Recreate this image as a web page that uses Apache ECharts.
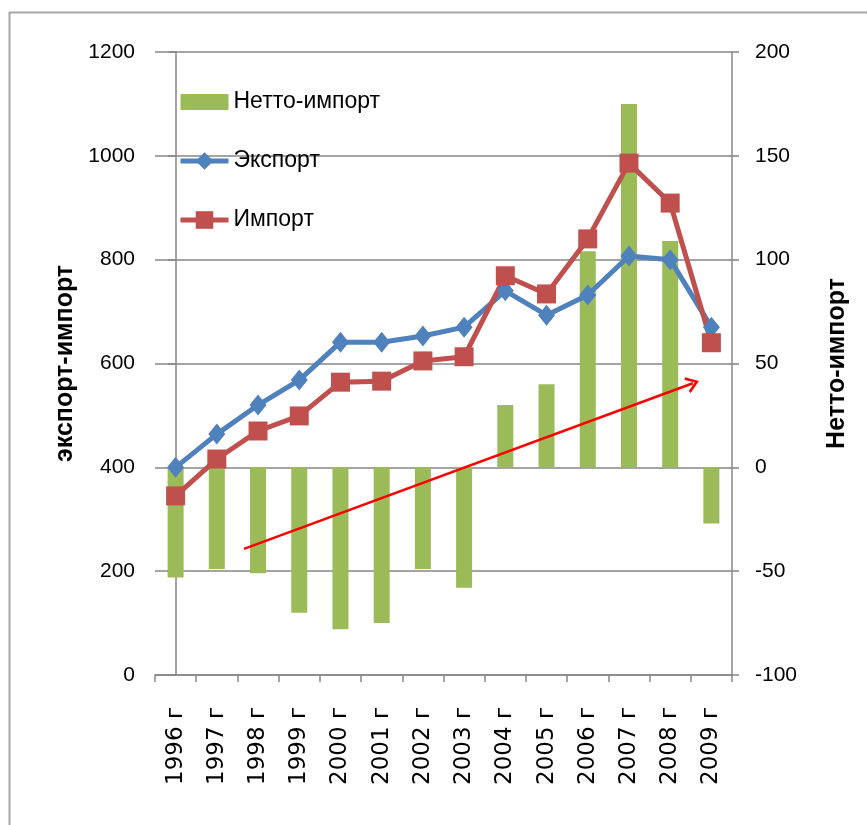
<!DOCTYPE html>
<html>
<head>
<meta charset="utf-8">
<script src="https://cdn.jsdelivr.net/npm/echarts@6/dist/echarts.min.js"></script>
<style>html,body{margin:0;padding:0;background:#fff}#c{width:867px;height:825px}</style>
</head>
<body>
<div id="c"></div>
<script>
const categories = ['1996 г','1997 г','1998 г','1999 г','2000 г','2001 г','2002 г','2003 г','2004 г','2005 г','2006 г','2007 г','2008 г','2009 г'];
const nettoImport = [-53, -49, -51, -70, -78, -75, -49, -58, 30, 40, 104, 175, 109, -27];
const exportVals = [400, 464, 520, 568, 641, 641, 653, 670, 740, 693, 732, 807, 800, 670];
const importVals = [345, 416, 470, 499, 564, 566, 605, 613, 769, 734, 840, 986, 909, 640];
const leftTicks = {min: 0, max: 1200, interval: 200};
const rightTicks = {min: -100, max: 200, interval: 50};
// trend arrow annotation: category position (fractional index) and left-axis value
const arrowX = [1.66, 12.55];
const arrowY = [243, 562];

const chart = echarts.init(document.getElementById('c'));
const axisColor = '#868686';
chart.setOption({
  backgroundColor: '#fff',
  animation: false,
  graphic: [{
    type: 'rect', left: 7, top: 10, shape: {width: 900, height: 900},
    style: {fill: 'none', stroke: '#a6a6a6', lineWidth: 2}, z: -10
  }],
  grid: {left: 155, right: 135, top: 52, bottom: 150},
  legend: {
    orient: 'vertical', left: 173, top: 85,
    itemWidth: 48, itemHeight: 22, itemGap: 35, symbolKeepAspect: true,
    lineStyle: {width: 5},
    textStyle: {fontFamily: 'Liberation Sans Narrow, Liberation Sans, sans-serif', fontSize: 23, color: '#000', lineHeight: 24},
    data: [
      {name: 'Нетто-импорт', icon: 'path://M0,0 L48,0 L48,16 L0,16 Z'},
      {name: 'Экспорт'},
      {name: 'Импорт'}
    ]
  },
  xAxis: [{
    type: 'category', data: categories,
    axisLine: {lineStyle: {color: axisColor, width: 1.5}},
    axisTick: {show: true, length: 7, lineStyle: {color: axisColor, width: 1.5}},
    axisLabel: {rotate: 90, margin: 32, fontFamily: 'DejaVu Sans', fontSize: 23, color: '#000', interval: 0},
    splitLine: {show: false}
  }, {
    type: 'value', min: -0.5, max: 13.5, show: false
  }],
  yAxis: [{
    type: 'value', min: leftTicks.min, max: leftTicks.max, interval: leftTicks.interval,
    name: 'экспорт-импорт', nameLocation: 'middle', nameRotate: 90, nameGap: 77,
    nameTextStyle: {fontFamily: 'Liberation Sans', fontWeight: 'bold', fontSize: 25, color: '#000'},
    axisLine: {show: true, lineStyle: {color: axisColor, width: 1.5}},
    axisTick: {show: true, length: 7, lineStyle: {color: axisColor, width: 1.5}},
    axisLabel: {margin: 20, fontFamily: 'Liberation Sans', fontSize: 21, color: '#000', formatter: v => String(v)},
    splitLine: {show: true, lineStyle: {color: axisColor, width: 1.5}}
  }, {
    type: 'value', min: rightTicks.min, max: rightTicks.max, interval: rightTicks.interval, position: 'right',
    name: 'Нетто-импорт', nameLocation: 'middle', nameRotate: 90, nameGap: 93,
    nameTextStyle: {fontFamily: 'Liberation Sans', fontWeight: 'bold', fontSize: 25, color: '#000'},
    axisLine: {show: true, lineStyle: {color: axisColor, width: 1.5}},
    axisTick: {show: true, length: 7, lineStyle: {color: axisColor, width: 1.5}},
    axisLabel: {margin: 23, fontFamily: 'Liberation Sans', fontSize: 21, color: '#000', formatter: v => String(v)},
    splitLine: {show: false}
  }],
  series: [{
    name: 'Нетто-импорт', type: 'bar', yAxisIndex: 1, data: nettoImport,
    barWidth: 16, itemStyle: {color: '#9BBB59'}
  }, {
    name: 'Экспорт', type: 'line', yAxisIndex: 0, data: exportVals,
    symbol: 'diamond', symbolSize: [17, 21], showAllSymbol: true,
    lineStyle: {color: '#4F81BD', width: 5}, itemStyle: {color: '#4F81BD'}
  }, {
    name: 'Импорт', type: 'line', yAxisIndex: 0, data: importVals,
    symbol: 'rect', symbolSize: 19, showAllSymbol: true,
    lineStyle: {color: '#C0504D', width: 5}, itemStyle: {color: '#C0504D'}
  }, {
    name: 'arrow', type: 'line', xAxisIndex: 1, yAxisIndex: 0, data: [],
    markLine: {
      silent: true, animation: false,
      symbol: ['none', 'path://M0,12 L8,0 L16,12 L13.5,13 L8,4.5 L2.5,13 Z'], symbolSize: [17, 13],
      label: {show: false},
      lineStyle: {color: '#FF0000', width: 2.5, type: 'solid'},
      data: [[{coord: [arrowX[0], arrowY[0]]}, {coord: [arrowX[1], arrowY[1]]}]]
    }
  }]
});
</script>
</body>
</html>
